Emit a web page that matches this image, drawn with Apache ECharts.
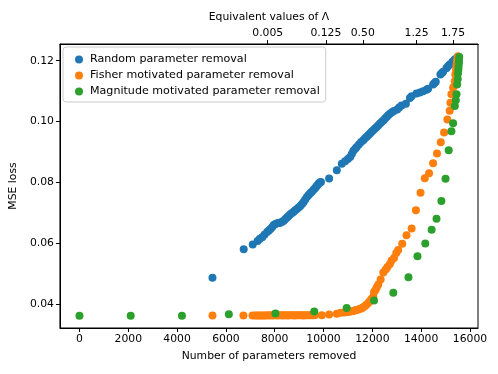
<!DOCTYPE html>
<html lang="en">
<head>
  <meta charset="UTF-8" />
  <title>MSE loss vs parameters removed</title>
  <script src="https://cdn.jsdelivr.net/npm/echarts@6.0.0/dist/echarts.min.js"></script>
  <style>
    body { margin: 0; background: #fff; }
    #chart { width: 498px; height: 374px; }
  </style>
</head>
<body>
  <div id="chart"></div>
  <script>
    const xTicks = [0, 2000, 4000, 6000, 8000, 10000, 12000, 14000, 16000];
    const yTicks = [0.04, 0.06, 0.08, 0.10, 0.12];
    // top axis: positions (in parameters removed) and the Lambda labels
    const lambdaPos = [7714, 10098, 11608, 13812, 15306];
    const lambdaLabels = ['0.005', '0.125', '0.50', '1.25', '1.75'];

    const randomX = [5450, 6730, 7100, 7300, 7390, 7490, 7580, 7690, 7760, 7825, 7900, 7960, 8030, 8100, 8170, 8230, 8300, 8370, 8440, 8505, 8570, 8640, 8710, 8775, 8840, 8910, 8980, 9050, 9120, 9185, 9250, 9320, 9390, 9455, 9520, 9590, 9650, 9700, 9750, 9795, 9850, 9895, 10230, 10545, 10750, 10885, 11000, 11090, 11160, 11225, 11300, 11360, 11450, 11540, 11630, 11700, 11770, 11840, 11905, 11970, 12040, 12110, 12180, 12250, 12315, 12380, 12450, 12520, 12585, 12650, 12720, 12800, 12885, 13020, 13100, 13200, 13375, 13540, 13610, 13810, 13950, 14080, 14220, 14285, 14490, 14550, 14600, 14790, 14850, 14900, 15035, 15100, 15170, 15280, 15375, 15470, 15550];
    const randomY = [0.0487, 0.0581, 0.0596, 0.0608, 0.0615, 0.0620, 0.0628, 0.0637, 0.0642, 0.0647, 0.0654, 0.0660, 0.0664, 0.0666, 0.0667, 0.0668, 0.0671, 0.0674, 0.0680, 0.0685, 0.0690, 0.0696, 0.0700, 0.0704, 0.0709, 0.0713, 0.0718, 0.0723, 0.0729, 0.0736, 0.0744, 0.0752, 0.0759, 0.0765, 0.0770, 0.0776, 0.0781, 0.0786, 0.0791, 0.0796, 0.0800, 0.0802, 0.0813, 0.0840, 0.0862, 0.0870, 0.0877, 0.0884, 0.0894, 0.0904, 0.0911, 0.0917, 0.0925, 0.0933, 0.0939, 0.0945, 0.0950, 0.0956, 0.0961, 0.0967, 0.0972, 0.0977, 0.0982, 0.0988, 0.0994, 0.0999, 0.1004, 0.1010, 0.1015, 0.1021, 0.1026, 0.1031, 0.1035, 0.1040, 0.1046, 0.1053, 0.1059, 0.1078, 0.1083, 0.1092, 0.1096, 0.1100, 0.1105, 0.1108, 0.1122, 0.1127, 0.1131, 0.1155, 0.1160, 0.1164, 0.1175, 0.1182, 0.1188, 0.1197, 0.1204, 0.1210, 0.1212];

    const fisherX = [5450, 6720, 7090, 7200, 7280, 7350, 7420, 7490, 7560, 7630, 7700, 7770, 7840, 7910, 7980, 8050, 8120, 8190, 8260, 8330, 8400, 8470, 8540, 8610, 8680, 8750, 8820, 8890, 8960, 9030, 9100, 9170, 9240, 9310, 9380, 9450, 9520, 9590, 9650, 9930, 10230, 10545, 10700, 10830, 10950, 11030, 11090, 11160, 11230, 11300, 11360, 11430, 11500, 11570, 11630, 11700, 11770, 11840, 11900, 11960, 12040, 12070, 12130, 12180, 12245, 12340, 12450, 12550, 12620, 12720, 12790, 12890, 12980, 13060, 13225, 13400, 13610, 13785, 13975, 14150, 14325, 14490, 14650, 14805, 14940, 15075, 15170, 15200, 15240, 15310, 15375, 15400, 15430, 15450, 15470, 15490, 15510];
    const fisherY = [0.0363, 0.0363, 0.0363, 0.0363, 0.0363, 0.0363, 0.0363, 0.0363, 0.0363, 0.0363, 0.0364, 0.0363, 0.0364, 0.0363, 0.0364, 0.0364, 0.0363, 0.0364, 0.0364, 0.0363, 0.0364, 0.0364, 0.0363, 0.0364, 0.0364, 0.0364, 0.0363, 0.0364, 0.0364, 0.0364, 0.0364, 0.0363, 0.0364, 0.0364, 0.0364, 0.0364, 0.0364, 0.0364, 0.0365, 0.0364, 0.0366, 0.0369, 0.0372, 0.0373, 0.0374, 0.0375, 0.0376, 0.0377, 0.0378, 0.0380, 0.0381, 0.0383, 0.0385, 0.0387, 0.0390, 0.0394, 0.0399, 0.0405, 0.0411, 0.0417, 0.0425, 0.0440, 0.0447, 0.0455, 0.0465, 0.0481, 0.0504, 0.0514, 0.0522, 0.0532, 0.0544, 0.0552, 0.0568, 0.0578, 0.0599, 0.0627, 0.0649, 0.0709, 0.0766, 0.0814, 0.0830, 0.0863, 0.0895, 0.0932, 0.0964, 0.1007, 0.1036, 0.1062, 0.1090, 0.1112, 0.1133, 0.1155, 0.1170, 0.1185, 0.1198, 0.1208, 0.1215];

    const magnitudeX = [0, 2100, 4200, 6120, 8030, 9620, 10950, 12070, 12860, 13480, 13850, 14170, 14430, 14630, 14830, 15000, 15130, 15240, 15310, 15380, 15420, 15450, 15475, 15500, 15510, 15525, 15535, 15545, 15550, 15560];
    const magnitudeY = [0.0362, 0.0362, 0.0362, 0.0367, 0.0370, 0.0376, 0.0388, 0.0412, 0.0438, 0.0489, 0.0558, 0.0600, 0.0645, 0.0681, 0.0739, 0.0812, 0.0906, 0.0968, 0.0995, 0.1051, 0.1070, 0.1090, 0.1122, 0.1140, 0.1158, 0.1170, 0.1180, 0.1192, 0.1201, 0.1212];

    const font = 'DejaVu Sans';
    const pairs = (xs, ys) => xs.map((x, i) => [x, ys[i]]);

    const chart = echarts.init(document.getElementById('chart'));
    chart.setOption({
      animation: false,
      textStyle: { fontFamily: font },
      grid: {
        left: 58, right: 20, top: 44, bottom: 46,
        show: true, borderColor: '#000', borderWidth: 1
      },
      legend: {
        left: 63, top: 47,
        orient: 'vertical',
        icon: 'circle',
        itemWidth: 8, itemHeight: 8, itemGap: 5,
        padding: [7, 6, 5, 12],
        backgroundColor: 'rgba(255,255,255,0.8)',
        borderColor: '#cccccc', borderWidth: 1, borderRadius: 3,
        textStyle: { fontFamily: font, fontSize: 11.1, color: '#000', lineHeight: 11, padding: [0, 0, 0, 2] },
        data: ['Random parameter removal', 'Fisher motivated parameter removal', 'Magnitude motivated parameter removal']
      },
      xAxis: [{
        type: 'value', position: 'bottom',
        min: -800, max: 16330,
        name: 'Number of parameters removed',
        nameLocation: 'middle', nameGap: 23,
        nameTextStyle: { fontFamily: font, fontSize: 10.8, color: '#000' },
        axisLine: { show: true, onZero: false, lineStyle: { color: '#000' } },
        axisTick: { show: true, length: 4, customValues: xTicks, lineStyle: { color: '#000' } },
        axisLabel: { customValues: xTicks, fontFamily: font, fontSize: 10.8, color: '#000', margin: 6,
          formatter: v => String(v) },
        splitLine: { show: false }
      }, {
        type: 'value', position: 'top',
        min: -800, max: 16330,
        name: 'Equivalent values of Λ',
        nameLocation: 'middle', nameGap: 19,
        nameTextStyle: { fontFamily: font, fontSize: 10.8, color: '#000' },
        axisLine: { show: true, onZero: false, lineStyle: { color: '#000' } },
        axisTick: { show: true, length: 4, customValues: lambdaPos, lineStyle: { color: '#000' } },
        axisLabel: {
          customValues: lambdaPos, fontFamily: font, fontSize: 10.8, color: '#000', margin: 5,
          formatter: v => lambdaLabels[lambdaPos.indexOf(v)]
        },
        splitLine: { show: false }
      }],
      yAxis: {
        type: 'value',
        min: 0.0322, max: 0.1255,
        name: 'MSE loss',
        nameLocation: 'middle', nameGap: 38,
        nameTextStyle: { fontFamily: font, fontSize: 10.8, color: '#000' },
        axisLine: { show: true, onZero: false, lineStyle: { color: '#000' } },
        axisTick: { show: true, length: 4, customValues: yTicks, lineStyle: { color: '#000' } },
        axisLabel: {
          customValues: yTicks, fontFamily: font, fontSize: 10.8, color: '#000', margin: 6,
          formatter: v => v.toFixed(2)
        },
        splitLine: { show: false }
      },
      series: [
        { name: 'Random parameter removal', type: 'scatter', symbolSize: 8,
          itemStyle: { color: '#1f77b4', opacity: 1 }, data: pairs(randomX, randomY) },
        { name: 'Fisher motivated parameter removal', type: 'scatter', symbolSize: 8,
          itemStyle: { color: '#ff7f0e', opacity: 1 }, data: pairs(fisherX, fisherY) },
        { name: 'Magnitude motivated parameter removal', type: 'scatter', symbolSize: 8,
          itemStyle: { color: '#2ca02c', opacity: 1 }, data: pairs(magnitudeX, magnitudeY) }
      ]
    });
  </script>
</body>
</html>
